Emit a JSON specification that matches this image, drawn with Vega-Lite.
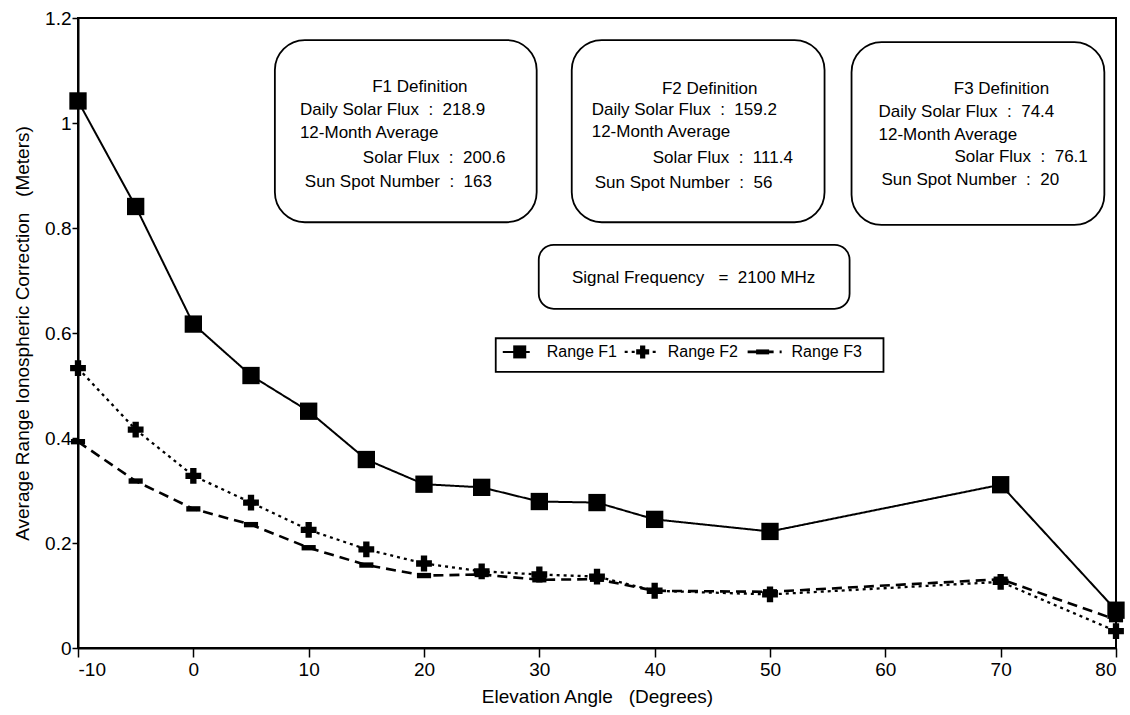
{
  "$schema": "https://vega.github.io/schema/vega-lite/v6.json",
  "width": 1038,
  "height": 630,
  "autosize": {"type": "none"},
  "padding": {"left": 78, "top": 18, "right": 14, "bottom": 67},
  "background": "white",
  "config": {
    "font": "Liberation Sans",
    "view": {"stroke": "black", "strokeWidth": 2},
    "axis": {"domainColor": "black", "domainWidth": 2, "tickColor": "black", "tickWidth": 1.5, "labelColor": "black", "titleColor": "black", "labelFont": "Liberation Sans", "titleFont": "Liberation Sans", "titleFontWeight": "normal", "grid": false, "labelFontSize": 19, "titleFontSize": 19}
  },
  "datasets": {
    "series": [
      {"angle": -10, "value": 1.042, "series": "Range F1"},
      {"angle": -5, "value": 0.841, "series": "Range F1"},
      {"angle": 0, "value": 0.617, "series": "Range F1"},
      {"angle": 5, "value": 0.519, "series": "Range F1"},
      {"angle": 10, "value": 0.451, "series": "Range F1"},
      {"angle": 15, "value": 0.359, "series": "Range F1"},
      {"angle": 20, "value": 0.312, "series": "Range F1"},
      {"angle": 25, "value": 0.306, "series": "Range F1"},
      {"angle": 30, "value": 0.279, "series": "Range F1"},
      {"angle": 35, "value": 0.277, "series": "Range F1"},
      {"angle": 40, "value": 0.245, "series": "Range F1"},
      {"angle": 50, "value": 0.222, "series": "Range F1"},
      {"angle": 70, "value": 0.311, "series": "Range F1"},
      {"angle": 80, "value": 0.072, "series": "Range F1"},
      {"angle": -10, "value": 0.533, "series": "Range F2"},
      {"angle": -5, "value": 0.416, "series": "Range F2"},
      {"angle": 0, "value": 0.328, "series": "Range F2"},
      {"angle": 5, "value": 0.277, "series": "Range F2"},
      {"angle": 10, "value": 0.225, "series": "Range F2"},
      {"angle": 15, "value": 0.188, "series": "Range F2"},
      {"angle": 20, "value": 0.161, "series": "Range F2"},
      {"angle": 25, "value": 0.146, "series": "Range F2"},
      {"angle": 30, "value": 0.140, "series": "Range F2"},
      {"angle": 35, "value": 0.136, "series": "Range F2"},
      {"angle": 40, "value": 0.109, "series": "Range F2"},
      {"angle": 50, "value": 0.102, "series": "Range F2"},
      {"angle": 70, "value": 0.126, "series": "Range F2"},
      {"angle": 80, "value": 0.032, "series": "Range F2"},
      {"angle": -10, "value": 0.393, "series": "Range F3"},
      {"angle": -5, "value": 0.318, "series": "Range F3"},
      {"angle": 0, "value": 0.265, "series": "Range F3"},
      {"angle": 5, "value": 0.235, "series": "Range F3"},
      {"angle": 10, "value": 0.191, "series": "Range F3"},
      {"angle": 15, "value": 0.158, "series": "Range F3"},
      {"angle": 20, "value": 0.138, "series": "Range F3"},
      {"angle": 25, "value": 0.140, "series": "Range F3"},
      {"angle": 30, "value": 0.130, "series": "Range F3"},
      {"angle": 35, "value": 0.131, "series": "Range F3"},
      {"angle": 40, "value": 0.109, "series": "Range F3"},
      {"angle": 50, "value": 0.107, "series": "Range F3"},
      {"angle": 70, "value": 0.131, "series": "Range F3"},
      {"angle": 80, "value": 0.054, "series": "Range F3"}
    ],
    "boxes": [
      {"kind": "definition", "x0": 7.07, "x1": 29.77, "y0": 1.158, "y1": 0.811},
      {"kind": "definition", "x0": 32.81, "x1": 54.73, "y0": 1.158, "y1": 0.811},
      {"kind": "definition", "x0": 57.07, "x1": 78.99, "y0": 1.154, "y1": 0.806},
      {"kind": "signal", "x0": 29.95, "x1": 56.9, "y0": 0.768, "y1": 0.646},
      {"kind": "legend", "x0": 26.22, "x1": 59.84, "y0": 0.59, "y1": 0.526}
    ],
    "notes": [
      {"role": "title", "x": 19.64, "y": 1.069, "label": "F1 Definition"},
      {"role": "line", "x": 9.24, "y": 1.025, "label": "Daily Solar Flux\u00a0 :\u00a0 218.9"},
      {"role": "line", "x": 9.24, "y": 0.981, "label": "12-Month Average"},
      {"role": "line", "x": 14.7, "y": 0.933, "label": "Solar Flux\u00a0 :\u00a0 200.6"},
      {"role": "line", "x": 9.67, "y": 0.888, "label": "Sun Spot Number\u00a0 :\u00a0 163"},
      {"role": "title", "x": 44.77, "y": 1.065, "label": "F2 Definition"},
      {"role": "line", "x": 34.54, "y": 1.025, "label": "Daily Solar Flux\u00a0 :\u00a0 159.2"},
      {"role": "line", "x": 34.54, "y": 0.983, "label": "12-Month Average"},
      {"role": "line", "x": 39.83, "y": 0.933, "label": "Solar Flux\u00a0 :\u00a0 111.4"},
      {"role": "line", "x": 34.8, "y": 0.886, "label": "Sun Spot Number\u00a0 :\u00a0 56"},
      {"role": "title", "x": 70.07, "y": 1.065, "label": "F3 Definition"},
      {"role": "line", "x": 59.41, "y": 1.021, "label": "Daily Solar Flux\u00a0 :\u00a0 74.4"},
      {"role": "line", "x": 59.41, "y": 0.977, "label": "12-Month Average"},
      {"role": "line", "x": 66.0, "y": 0.935, "label": "Solar Flux\u00a0 :\u00a0 76.1"},
      {"role": "line", "x": 59.67, "y": 0.891, "label": "Sun Spot Number\u00a0 :\u00a0 20"},
      {"role": "title", "x": 43.38, "y": 0.705, "label": "Signal Frequency\u00a0\u00a0 =\u00a0 2100 MHz"}
    ],
    "legend": [
      {"series": "Range F1", "x0": 26.83, "x1": 29.17, "xm": 28.3, "xt": 30.64, "y": 0.564},
      {"series": "Range F2", "x0": 37.4, "x1": 40.26, "xm": 38.96, "xt": 41.13, "y": 0.564},
      {"series": "Range F3", "x0": 48.06, "x1": 51.01, "xm": 49.36, "xt": 51.87, "y": 0.564}
    ]
  },
  "layer": [
    {
      "data": {"name": "boxes"},
      "transform": [{"filter": "datum.kind == 'definition'"}],
      "mark": {"type": "rect", "cornerRadius": 30, "fill": "transparent", "stroke": "black", "strokeWidth": 1.8},
      "encoding": {
        "x": {"field": "x0", "type": "quantitative", "scale": {"domain": [-10, 80], "nice": false, "zero": false},
          "axis": {"values": [-10, 0, 10, 20, 30, 40, 50, 60, 70, 80], "title": "Elevation Angle\u00a0\u00a0 (Degrees)", "tickSize": 9, "labelPadding": 3, "titlePadding": 8, "labelExpr": "'' + datum.value"}},
        "x2": {"field": "x1"},
        "y": {"field": "y0", "type": "quantitative", "scale": {"domain": [0, 1.2], "nice": false, "zero": true},
          "axis": {"values": [0, 0.2, 0.4, 0.6, 0.8, 1, 1.2], "title": "Average Range Ionospheric Correction\u00a0\u00a0 (Meters)", "tickSize": 6, "labelPadding": 1, "titlePadding": 12, "labelExpr": "'' + datum.value"}},
        "y2": {"field": "y1"}
      }
    },
    {
      "data": {"name": "boxes"},
      "transform": [{"filter": "datum.kind == 'signal'"}],
      "mark": {"type": "rect", "cornerRadius": 15, "fill": "transparent", "stroke": "black", "strokeWidth": 1.8},
      "encoding": {
        "x": {"field": "x0", "type": "quantitative"},
        "x2": {"field": "x1"},
        "y": {"field": "y0", "type": "quantitative"},
        "y2": {"field": "y1"}
      }
    },
    {
      "data": {"name": "boxes"},
      "transform": [{"filter": "datum.kind == 'legend'"}],
      "mark": {"type": "rect", "fill": "white", "stroke": "black", "strokeWidth": 1.8},
      "encoding": {
        "x": {"field": "x0", "type": "quantitative"},
        "x2": {"field": "x1"},
        "y": {"field": "y0", "type": "quantitative"},
        "y2": {"field": "y1"}
      }
    },
    {
      "data": {"name": "series"},
      "mark": {"type": "line", "color": "black"},
      "encoding": {
        "x": {"field": "angle", "type": "quantitative"},
        "y": {"field": "value", "type": "quantitative"},
        "detail": {"field": "series"},
        "strokeDash": {"field": "series", "type": "nominal", "scale": {"domain": ["Range F1", "Range F2", "Range F3"], "range": [[1, 0], [3, 4], [10, 6]]}, "legend": null},
        "strokeWidth": {"field": "series", "type": "nominal", "scale": {"domain": ["Range F1", "Range F2", "Range F3"], "range": [2, 2.6, 2.2]}, "legend": null}
      }
    },
    {
      "data": {"name": "series"},
      "mark": {"type": "point", "filled": true, "color": "black", "opacity": 1},
      "encoding": {
        "x": {"field": "angle", "type": "quantitative"},
        "y": {"field": "value", "type": "quantitative"},
        "shape": {"field": "series", "type": "nominal", "scale": {"domain": ["Range F1", "Range F2", "Range F3"], "range": ["square", "cross", "M-1,-0.38H1V0.38H-1Z"]}, "legend": null},
        "size": {"field": "series", "type": "nominal", "scale": {"domain": ["Range F1", "Range F2", "Range F3"], "range": [300, 200, 270]}, "legend": null}
      }
    },
    {
      "data": {"name": "notes"},
      "transform": [{"filter": "datum.role == 'title'"}],
      "mark": {"type": "text", "align": "center", "baseline": "middle", "fontSize": 17, "color": "black"},
      "encoding": {
        "x": {"field": "x", "type": "quantitative"},
        "y": {"field": "y", "type": "quantitative"},
        "text": {"field": "label"}
      }
    },
    {
      "data": {"name": "notes"},
      "transform": [{"filter": "datum.role == 'line'"}],
      "mark": {"type": "text", "align": "left", "baseline": "middle", "fontSize": 17, "color": "black"},
      "encoding": {
        "x": {"field": "x", "type": "quantitative"},
        "y": {"field": "y", "type": "quantitative"},
        "text": {"field": "label"}
      }
    },
    {
      "data": {"name": "legend"},
      "mark": {"type": "rule", "color": "black"},
      "encoding": {
        "x": {"field": "x0", "type": "quantitative"},
        "x2": {"field": "x1"},
        "y": {"field": "y", "type": "quantitative"},
        "strokeDash": {"field": "series", "type": "nominal", "legend": null},
        "strokeWidth": {"field": "series", "type": "nominal", "legend": null}
      }
    },
    {
      "data": {"name": "legend"},
      "mark": {"type": "point", "filled": true, "color": "black", "opacity": 1, "size": 170},
      "encoding": {
        "x": {"field": "xm", "type": "quantitative"},
        "y": {"field": "y", "type": "quantitative"},
        "shape": {"field": "series", "type": "nominal", "legend": null}
      }
    },
    {
      "data": {"name": "legend"},
      "mark": {"type": "text", "align": "left", "baseline": "middle", "fontSize": 16, "color": "black"},
      "encoding": {
        "x": {"field": "xt", "type": "quantitative"},
        "y": {"field": "y", "type": "quantitative"},
        "text": {"field": "series"}
      }
    }
  ]
}
